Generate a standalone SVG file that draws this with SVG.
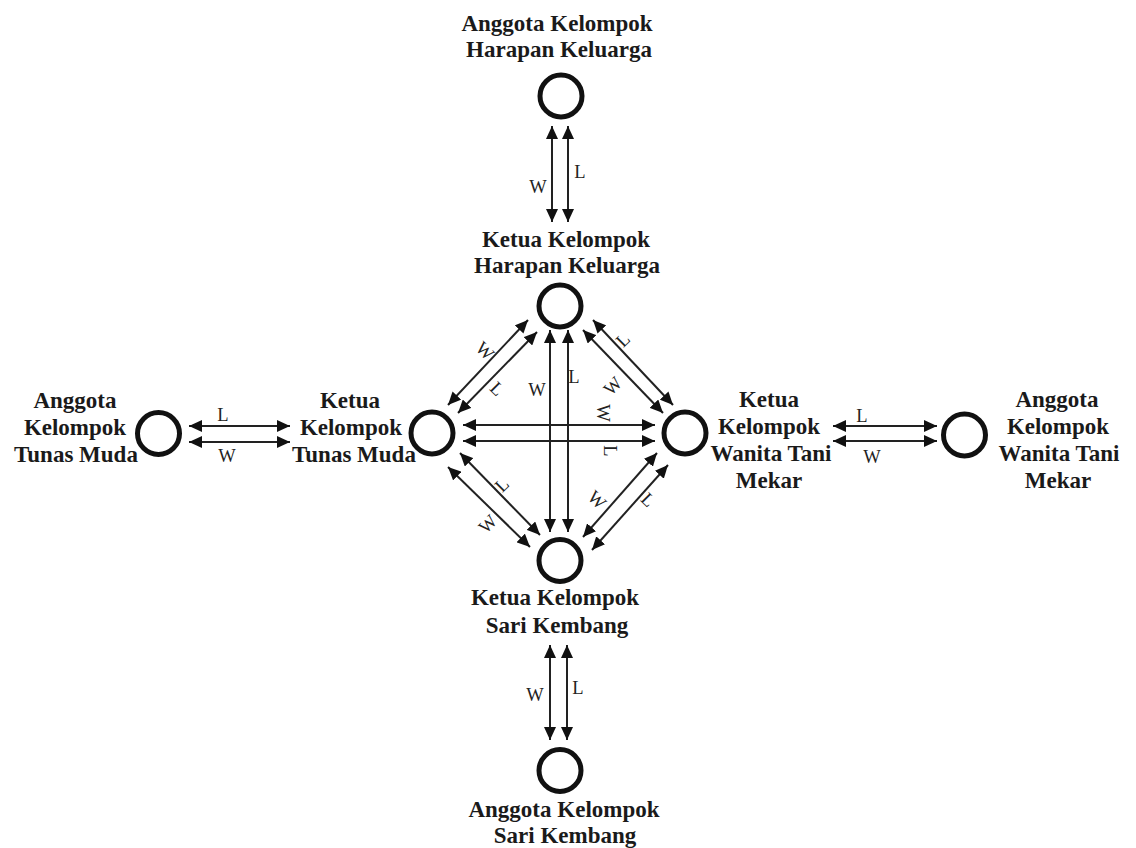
<svg xmlns="http://www.w3.org/2000/svg" width="1136" height="848" viewBox="0 0 1136 848">
<style>
.node{fill:#fff;stroke:#111;stroke-width:5}
.nt{font-family:"Liberation Serif","Times New Roman",serif;font-weight:bold;font-size:23px;fill:#1a1a1a;text-anchor:middle}
.ln{stroke:#222;stroke-width:2;fill:none;marker-start:url(#ah);marker-end:url(#ah)}
.lb{font-family:"Liberation Serif","Times New Roman",serif;font-size:18.5px;fill:#222;text-anchor:middle;dominant-baseline:central}
</style>
<defs>
<marker id="ah" viewBox="0 0 13 12" refX="13" refY="6" markerWidth="13" markerHeight="12" markerUnits="userSpaceOnUse" orient="auto-start-reverse">
<path d="M0,0 L13,6 L0,12 Z" fill="#111"/>
</marker>
</defs>
<rect width="1136" height="848" fill="#fff"/>
<g id="connectors">
<line class="ln" x1="552" y1="222" x2="552" y2="126"/>
<line class="ln" x1="568" y1="222" x2="568" y2="126"/>
<line class="ln" x1="550" y1="740" x2="550" y2="645"/>
<line class="ln" x1="567" y1="740" x2="567" y2="645"/>
<line class="ln" x1="189" y1="426" x2="290" y2="426"/>
<line class="ln" x1="189" y1="442" x2="290" y2="442"/>
<line class="ln" x1="833" y1="426" x2="937" y2="426"/>
<line class="ln" x1="833" y1="441" x2="937" y2="441"/>
<line class="ln" x1="550" y1="532" x2="550" y2="330"/>
<line class="ln" x1="568" y1="532" x2="568" y2="330"/>
<line class="ln" x1="463" y1="425" x2="655" y2="425"/>
<line class="ln" x1="463" y1="441" x2="655" y2="441"/>
<line class="ln" x1="448" y1="405" x2="528" y2="320"/>
<line class="ln" x1="458" y1="413" x2="537" y2="332"/>
<line class="ln" x1="593" y1="320" x2="673" y2="405"/>
<line class="ln" x1="583" y1="330" x2="663" y2="413"/>
<line class="ln" x1="448" y1="467" x2="530" y2="547"/>
<line class="ln" x1="460" y1="453" x2="540" y2="535"/>
<line class="ln" x1="583" y1="537" x2="657" y2="453"/>
<line class="ln" x1="592" y1="550" x2="668" y2="465"/>
<text class="lb" x="538" y="187">W</text>
<text class="lb" x="580" y="172">L</text>
<text class="lb" x="537" y="390">W</text>
<text class="lb" x="574" y="377">L</text>
<text class="lb" x="535" y="695">W</text>
<text class="lb" x="578" y="688">L</text>
<text class="lb" x="223" y="415">L</text>
<text class="lb" x="227" y="456">W</text>
<text class="lb" x="862" y="416">L</text>
<text class="lb" x="872" y="457">W</text>
<text class="lb" transform="translate(603,413) rotate(90)">W</text>
<text class="lb" transform="translate(610,451) rotate(90)">L</text>
<text class="lb" transform="translate(485,351) rotate(45)">W</text>
<text class="lb" transform="translate(497,389) rotate(45)">L</text>
<text class="lb" transform="translate(623,340) rotate(-45)">L</text>
<text class="lb" transform="translate(613,386) rotate(-45)">W</text>
<text class="lb" transform="translate(502,485) rotate(-45)">L</text>
<text class="lb" transform="translate(488,524) rotate(-45)">W</text>
<text class="lb" transform="translate(597,500) rotate(45)">W</text>
<text class="lb" transform="translate(648,500) rotate(45)">L</text>
</g>
<g id="anggota-harapan-keluarga">
<circle class="node" cx="561" cy="96" r="21"/>
<text class="nt" x="557" y="31">Anggota Kelompok</text>
<text class="nt" x="559" y="57">Harapan Keluarga</text>
</g>
<g id="ketua-harapan-keluarga">
<circle class="node" cx="560" cy="306" r="21"/>
<text class="nt" x="566" y="247">Ketua Kelompok</text>
<text class="nt" x="567" y="273">Harapan Keluarga</text>
</g>
<g id="anggota-tunas-muda">
<circle class="node" cx="158.5" cy="433.5" r="21"/>
<text class="nt" x="75" y="408">Anggota</text>
<text class="nt" x="75" y="435">Kelompok</text>
<text class="nt" x="76" y="462">Tunas Muda</text>
</g>
<g id="ketua-tunas-muda">
<circle class="node" cx="432" cy="433" r="21"/>
<text class="nt" x="350" y="408">Ketua</text>
<text class="nt" x="351" y="435">Kelompok</text>
<text class="nt" x="354" y="462">Tunas Muda</text>
</g>
<g id="ketua-wanita-tani-mekar">
<circle class="node" cx="685" cy="433" r="21"/>
<text class="nt" x="769" y="407">Ketua</text>
<text class="nt" x="769" y="434">Kelompok</text>
<text class="nt" x="771" y="461">Wanita Tani</text>
<text class="nt" x="769" y="488">Mekar</text>
</g>
<g id="anggota-wanita-tani-mekar">
<circle class="node" cx="964.5" cy="435" r="21"/>
<text class="nt" x="1057" y="407">Anggota</text>
<text class="nt" x="1058" y="434">Kelompok</text>
<text class="nt" x="1059" y="461">Wanita Tani</text>
<text class="nt" x="1058" y="488">Mekar</text>
</g>
<g id="ketua-sari-kembang">
<circle class="node" cx="560" cy="560.5" r="21"/>
<text class="nt" x="555" y="605">Ketua Kelompok</text>
<text class="nt" x="557" y="633">Sari Kembang</text>
</g>
<g id="anggota-sari-kembang">
<circle class="node" cx="560" cy="770.5" r="21"/>
<text class="nt" x="564" y="817">Anggota Kelompok</text>
<text class="nt" x="565" y="843">Sari Kembang</text>
</g>
</svg>
